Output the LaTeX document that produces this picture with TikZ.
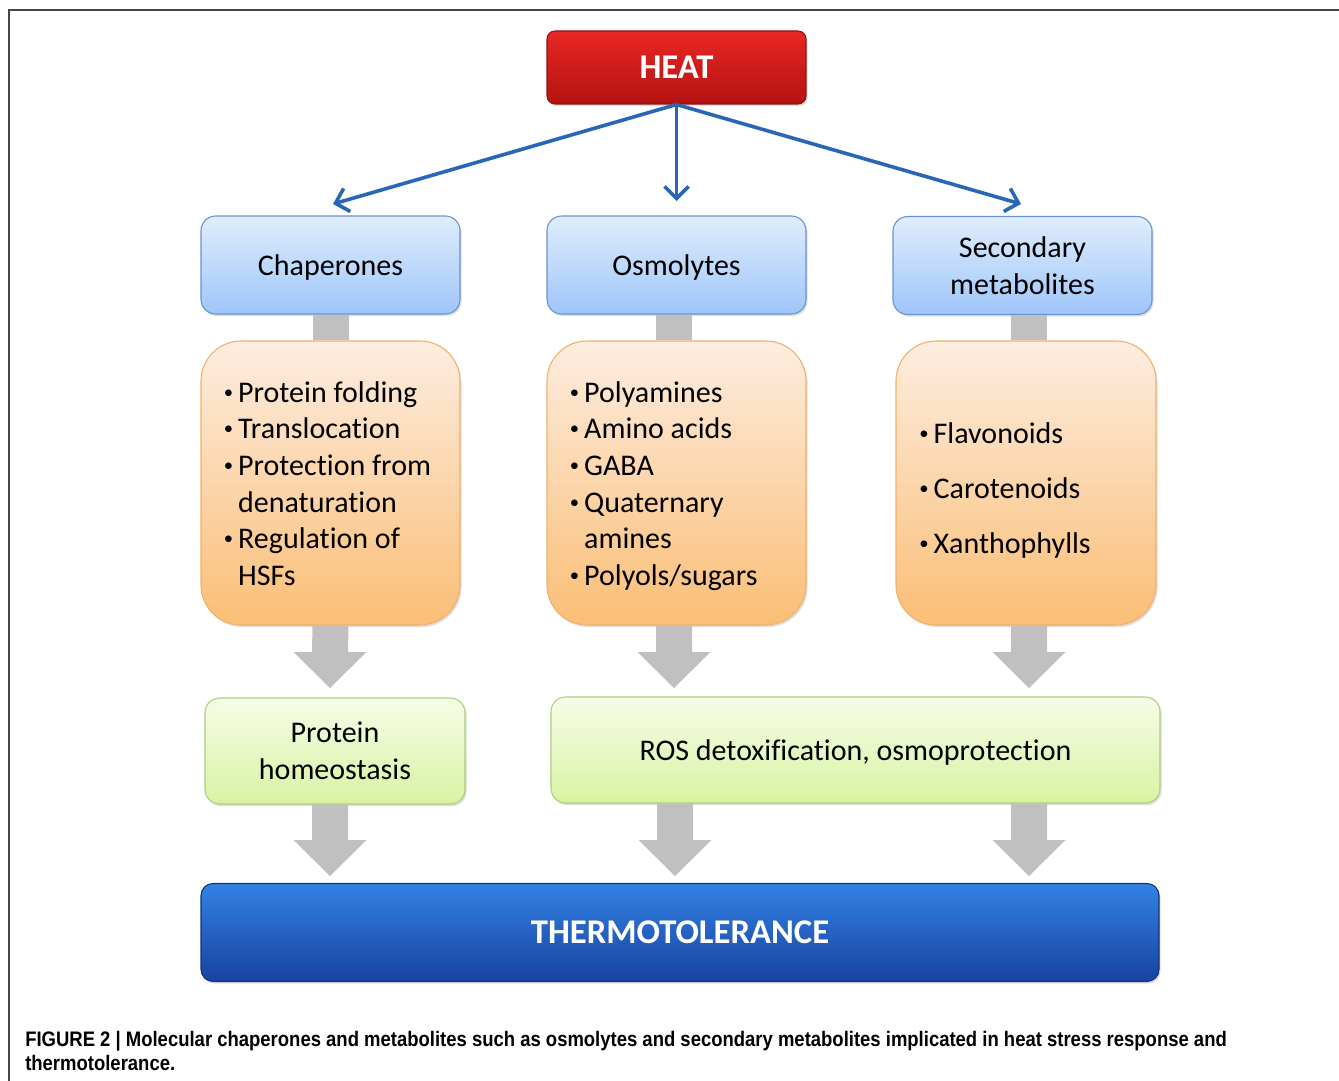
\documentclass[tikz,border=0pt]{standalone}
\usepackage{fontspec}
\setmainfont{Carlito}[Ligatures=NoCommon]
\newfontfamily\capfont[FakeStretch=0.88]{Liberation Sans}
\usetikzlibrary{calc,shadows,arrows.meta}

\definecolor{framegray}{RGB}{70,70,70}
\definecolor{heattop}{RGB}{232,40,36}
\definecolor{heatbot}{RGB}{180,18,18}
\definecolor{heatline}{RGB}{140,20,20}
\definecolor{cattop}{RGB}{224,237,252}
\definecolor{catbot}{RGB}{158,198,250}
\definecolor{catline}{RGB}{105,145,205}
\definecolor{listtop}{RGB}{253,237,224}
\definecolor{listbot}{RGB}{250,190,118}
\definecolor{listline}{RGB}{242,176,104}
\definecolor{efftop}{RGB}{247,252,232}
\definecolor{effbot}{RGB}{216,243,162}
\definecolor{effline}{RGB}{172,206,124}
\definecolor{toltop}{RGB}{50,130,228}
\definecolor{tolmid}{RGB}{34,104,210}
\definecolor{tolbot}{RGB}{24,66,160}
\definecolor{tolline}{RGB}{22,50,118}
\definecolor{cueblue}{RGB}{42,102,184}
\definecolor{linkgray}{RGB}{192,192,192}

% small raised bullet with a fixed advance, so wrapped lines hang under the text
\newcommand{\bul}{\makebox[11.25pt][l]{\hspace{0.6pt}\raisebox{3.2pt}{\fontsize{14}{14}\selectfont•}}}
\newcommand{\hang}{\hspace*{11.25pt}}
% left-aligned list of fixed width, lowered by #1 without changing its size
\newcommand{\itemlist}[2]{\raisebox{-#1}[\height][\depth]{\makebox[161pt][l]{%
  \begin{tabular}{@{}l@{}}#2\end{tabular}}}}

% grey block arrow from a top-centre point down to a tip point
\newcommand{\garrow}[2]{%
  \fill[linkgray] ($(#1)+(-18,0)$) -- ($(#1)+(18,0)$) -- ($(#2)+(18,-36)$)
    -- ($(#2)+(36.5,-36)$) -- (#2) -- ($(#2)+(-36.5,-36)$)
    -- ($(#2)+(-18,-36)$) -- cycle;}

\begin{document}
\begin{tikzpicture}[x=0.75pt,y=-0.75pt,
  softshadow/.style={drop shadow={opacity=0.25,shadow xshift=1.2pt,shadow yshift=-1.6pt}},
  basebox/.style={draw,line width=0.8pt,inner sep=0pt,align=center,softshadow,
    font=\fontsize{22.5}{27.5}\selectfont},
  heatbox/.style={basebox,rounded corners=6pt,minimum width=194.25pt,minimum height=54.75pt,
    top color=heattop,bottom color=heatbot,draw=heatline,text=white,
    font=\fontsize{26}{28}\selectfont\bfseries},
  catbox/.style={basebox,rounded corners=11pt,minimum width=194.25pt,minimum height=73.5pt,
    top color=cattop,bottom color=catbot,draw=catline},
  listbox/.style={basebox,rounded corners=30pt,minimum width=194.25pt,minimum height=213pt,
    top color=listtop,bottom color=listbot,draw=listline,inner xsep=16.5pt},
  effbox/.style={basebox,rounded corners=11pt,minimum height=79.5pt,
    top color=efftop,bottom color=effbot,draw=effline},
  tolbox/.style={basebox,rounded corners=9pt,minimum width=718.5pt,minimum height=73.5pt,
    top color=toltop,middle color=tolmid,bottom color=tolbot,draw=tolline,text=white,
    font=\fontsize{26}{28}\selectfont\bfseries},
  cue/.style={cueblue,line width=2.7pt,-{Straight Barb[length=9pt,width=18pt]}},
  link/.style={linkgray,line width=27pt},
  caption/.style={anchor=base west,inner sep=0pt,font=\capfont\fontsize{15.75}{18}\selectfont\bfseries}
]
\useasboundingbox (0,0) rectangle (1339,1081);

% open frame round the figure
\draw[framegray,line width=0.8pt] (9,1081) -- (9,10) -- (1339,10);

% stimulus
\node[heatbox] (heat) at (676.5,67.5) {HEAT};

% three classes of response
\node[catbox,text depth=0pt] (chap) at (330.5,265) {Chaperones};
\node[catbox,text depth=0pt] (osmo) at (676.5,265) {Osmolytes};
\node[catbox] (secm) at (1022.5,265.5) {Secondary\\metabolites};

% members / roles of each class
\node[listbox] (chapL) at (330.5,483) {\itemlist{2.7pt}{\bul Protein folding\\ \bul Translocation\\ \bul Protection from\\ \hang denaturation\\ \bul Regulation of\\ \hang HSFs}};
\node[listbox] (osmoL) at (676.5,483) {\itemlist{2.7pt}{\bul Polyamines\\ \bul Amino acids\\ \bul GABA\\ \bul Quaternary\\ \hang amines\\ \bul Polyols/sugars}};
\node[listbox,minimum width=195pt] (secmL) at (1026,483) {\itemlist{6pt}{\bul Flavonoids\\[13.75pt] \bul Carotenoids\\[13.75pt] \bul Xanthophylls}};

% effects
\node[effbox,minimum width=195pt] (prot) at (335,751) {Protein\\homeostasis};
\node[effbox,minimum width=456.75pt,text depth=0pt] (ros) at (855.5,750) {ROS detoxification, osmoprotection};

% outcome
\node[tolbox] (tol) at (680,932.5) {THERMOTOLERANCE};

% arrows from the stimulus
\coordinate (cueL) at (333,204);
\coordinate (cueM) at (676.5,201);
\coordinate (cueR) at (1021,204);
\draw[cue] (heat.south) -- (cueL);
\draw[cue] (heat.south) -- (cueM);
\draw[cue] (heat.south) -- (cueR);

% grey links between class boxes and their lists
\draw[link] (chap.south) -- (chapL.north);
\draw[link] ($(osmo.south)+(-3,0)$) -- ($(osmoL.north)+(-3,0)$);
\draw[link] ($(secm.south)+(6,0)$) -- ($(secmL.north)+(2.5,0)$);

% block arrows: lists -> effects
\coordinate (tipA) at (330,688);
\coordinate (tipB) at (674,688);
\coordinate (tipC) at (1029,688);
\garrow{chapL.south}{tipA}
\garrow{$(osmoL.south)+(-2.5,0)$}{tipB}
\garrow{$(secmL.south)+(3,0)$}{tipC}

% block arrows: effects -> thermotolerance
\coordinate (tipD) at (330,876);
\coordinate (tipE) at (675,876);
\coordinate (tipF) at (1029,876);
\garrow{$(prot.south)+(-5,0)$}{tipD}
\garrow{$(ros.south)+(-180.5,0)$}{tipE}
\garrow{$(ros.south)+(173.5,0)$}{tipF}

% caption
\node[caption] (cap1) at (25,1046) {FIGURE 2 | Molecular chaperones and metabolites such as osmolytes and secondary metabolites implicated in heat stress response and};
\node[caption] (cap2) at (25,1070) {thermotolerance.};
\end{tikzpicture}
\end{document}
